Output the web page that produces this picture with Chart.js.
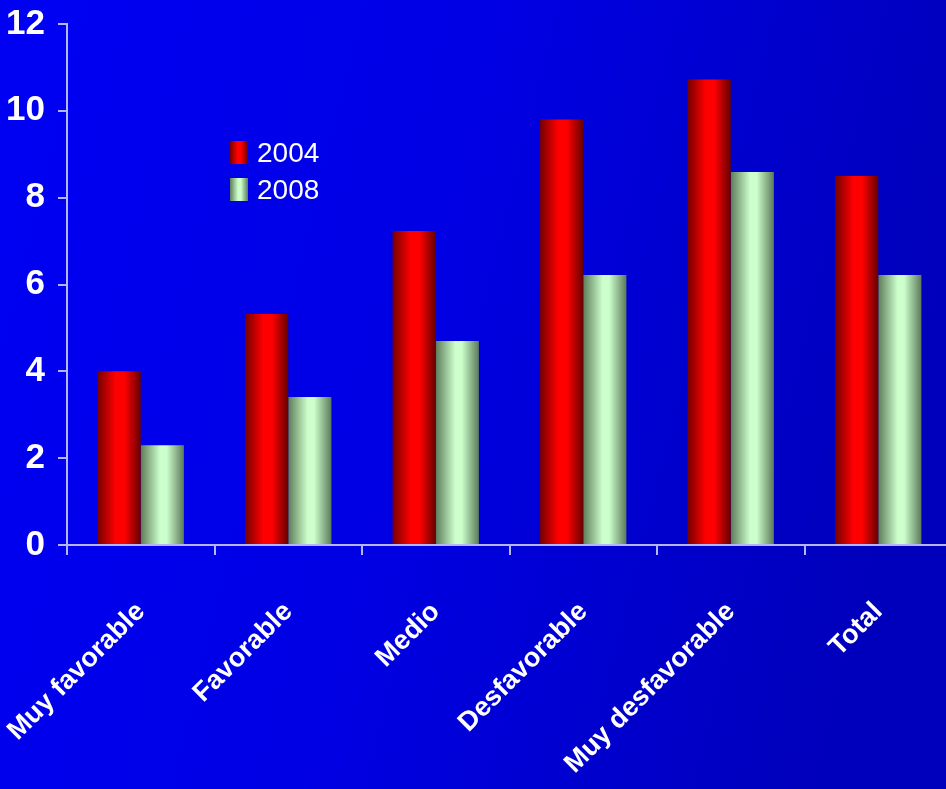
<!DOCTYPE html>
<html>
<head>
<meta charset="utf-8">
<script src="https://cdn.jsdelivr.net/npm/chart.js@4.4.0/dist/chart.umd.min.js"></script>
<style>
  html, body { margin: 0; padding: 0; overflow: hidden; background: #0000e6; }
  #wrap { position: relative; width: 952px; height: 789px; }
  #legend {
    position: absolute; left: 230px; top: 134px;
    list-style: none; margin: 0; padding: 0;
    font-family: 'Liberation Sans', Arial, sans-serif; font-size: 28px; color: #fff;
  }
  #legend li { display: flex; align-items: center; height: 37px; }
  .swatch { width: 18px; height: 23px; margin-right: 9px; }
</style>
</head>
<body>
<div id="wrap">
  <canvas id="js-chart" width="952" height="789"></canvas>
  <ul id="legend"></ul>
</div>
<script>
'use strict'

const categories = ['Muy favorable', 'Favorable', 'Medio', 'Desfavorable', 'Muy desfavorable', 'Total']
const values2004 = [4.0, 5.32, 7.23, 9.8, 10.72, 8.5]
const values2008 = [2.3, 3.41, 4.7, 6.22, 8.59, 6.22]
const seriesNames = ['2004', '2008']
const yTicks = [0, 2, 4, 6, 8, 10, 12]

{
  const colors = {
    axis: '#b4b4ff',
    text: '#ffffff',
  }
  const redStops = [[0, '#760000'], [0.42, '#ff0000'], [0.62, '#ff0000'], [1, '#660000']]
  const greenStops = [[0, '#5e7c5a'], [0.45, '#ccffcc'], [0.6, '#ccffcc'], [1, '#5c7a5a']]
  const categoryPercentage = 0.585

  const cssGradient = (stops) =>
    'linear-gradient(to right, ' + stops.map(([o, c]) => `${c} ${o * 100}%`).join(', ') + ')'

  // horizontal shading per bar, worked out from the x scale
  const barGradient = (stops) => (context) => {
    const chart = context.chart
    const xs = chart.scales.x
    if (!xs || !chart.chartArea || context.dataIndex === undefined) return stops[1][1]
    const catW = xs.width / categories.length
    const groupW = catW * categoryPercentage
    const barW = groupW / 2
    const left = xs.getPixelForValue(context.dataIndex) - groupW / 2 + context.datasetIndex * barW
    const g = chart.ctx.createLinearGradient(left, 0, left + barW, 0)
    stops.forEach(([o, c]) => g.addColorStop(o, c))
    return g
  }

  const backgroundPlugin = {
    id: 'slideBackground',
    beforeDraw(chart) {
      const { ctx, width, height } = chart
      const g = ctx.createLinearGradient(0, 0, width, height * 0.3)
      g.addColorStop(0, '#0000f4')
      g.addColorStop(0.5, '#0000e4')
      g.addColorStop(1, '#0000bc')
      ctx.save()
      ctx.fillStyle = g
      ctx.fillRect(0, 0, width, height)
      ctx.restore()
    }
  }

  const htmlLegendPlugin = {
    id: 'htmlLegend',
    afterUpdate(chart) {
      const ul = document.getElementById('legend')
      while (ul.firstChild) ul.firstChild.remove()
      chart.data.datasets.forEach((ds, i) => {
        const li = document.createElement('li')
        const box = document.createElement('span')
        box.className = 'swatch'
        box.style.background = cssGradient(i === 0 ? redStops : greenStops)
        li.appendChild(box)
        li.appendChild(document.createTextNode(ds.label))
        ul.appendChild(li)
      })
    }
  }

  const data = {
    labels: categories,
    datasets: [
      {
        label: seriesNames[0],
        data: values2004,
        backgroundColor: barGradient(redStops),
        borderWidth: 0,
        categoryPercentage: categoryPercentage,
        barPercentage: 1,
      },
      {
        label: seriesNames[1],
        data: values2008,
        backgroundColor: barGradient(greenStops),
        borderWidth: 0,
        categoryPercentage: categoryPercentage,
        barPercentage: 1,
      }
    ]
  }

  const config = {
    type: 'bar',
    data: data,
    options: {
      responsive: false,
      animation: false,
      layout: { padding: { top: 24, left: 0, right: 0, bottom: 0 } },
      plugins: {
        legend: { display: false },
        tooltip: { enabled: false },
      },
      scales: {
        x: {
          grid: {
            offset: true,
            drawOnChartArea: false,
            tickLength: 10,
            color: colors.axis,
            lineWidth: 2,
          },
          border: { color: colors.axis, width: 2 },
          ticks: {
            color: colors.text,
            maxRotation: 45,
            minRotation: 45,
            padding: 41,
            font: { family: "'Liberation Sans', Arial, sans-serif", size: 27, weight: 'bold' },
          },
          afterFit(scale) {
            scale.height = 244
            scale.paddingLeft = 0
            scale.paddingRight = 0
          }
        },
        y: {
          min: 0,
          max: 12,
          afterBuildTicks(scale) {
            scale.ticks = yTicks.map(v => ({ value: v }))
          },
          grid: {
            drawOnChartArea: false,
            tickLength: 9,
            color: colors.axis,
            lineWidth: 2,
          },
          border: { color: colors.axis, width: 2 },
          ticks: {
            color: colors.text,
            padding: 13,
            font: { family: "'Liberation Sans Narrow', 'Liberation Sans', Arial, sans-serif", size: 35, weight: 'bold' },
          },
          afterFit(scale) {
            scale.width = 67
            scale.paddingTop = 0
            scale.paddingBottom = 0
          }
        }
      }
    },
    plugins: [backgroundPlugin, htmlLegendPlugin],
  }

  new Chart(document.getElementById('js-chart'), config)
}
</script>
</body>
</html>
